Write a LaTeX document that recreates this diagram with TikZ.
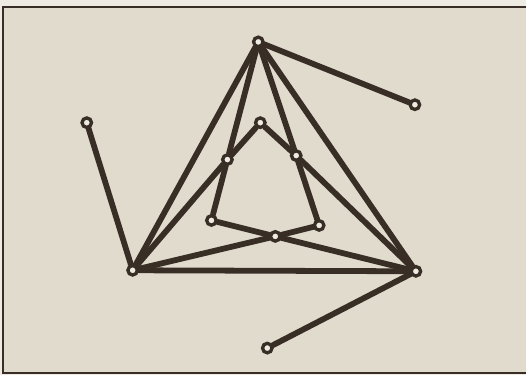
\documentclass[tikz,border=0pt]{standalone}
\usetikzlibrary{positioning}
\definecolor{paper}{RGB}{224,219,205}
\definecolor{margin}{RGB}{238,235,226}
\definecolor{ink}{RGB}{56,46,38}

\begin{document}
\begin{tikzpicture}[x=0.02cm, y=-0.02cm,
    pin/.style={circle, draw=ink, fill=margin, line width=1.9pt, minimum size=0.19cm, inner sep=0pt},
    rod/.style={draw=ink, line width=3.3pt, line cap=round}
]
% paper and frame
\fill[margin] (0,0) rectangle (527,376);
\fill[paper] (3,7) rectangle (527,374);
\draw[ink, line width=1.6pt] (527,7) -- (3,7) -- (3,374) -- (527,374);

% outer joints
\node[pin] (top) at (259,42) {};
\node[pin] (rt) at (416,105) {};
\node[pin] (lt) at (87,123) {};
\node[pin] (bl) at (133,271) {};
\node[pin] (br) at (417,272) {};
\node[pin] (bot) at (268,349) {};

% inner joints
\node[pin] (itop) at (261,123) {};
\node[pin] (ileft) at (228,160) {};
\node[pin] (iright) at (297,156) {};
\node[pin] (illow) at (212,221) {};
\node[pin] (irlow) at (320,226) {};
\node[pin] (imid) at (276,237) {};

% outer rods
\draw[rod] (top) -- (rt);
\draw[rod] (lt) -- (bl);
\draw[rod] (top) -- (bl);
\draw[rod] (top) -- (br);
\draw[rod] (bl) -- (br);
\draw[rod] (bot) -- (br);

% inner rods
\draw[rod] (top) -- (ileft) -- (illow);
\draw[rod] (top) -- (iright) -- (irlow);
\draw[rod] (itop) -- (ileft) -- (bl);
\draw[rod] (itop) -- (iright) -- (br);
\draw[rod] (illow) -- (imid) -- (br);
\draw[rod] (irlow) -- (imid) -- (bl);
\end{tikzpicture}
\end{document}
